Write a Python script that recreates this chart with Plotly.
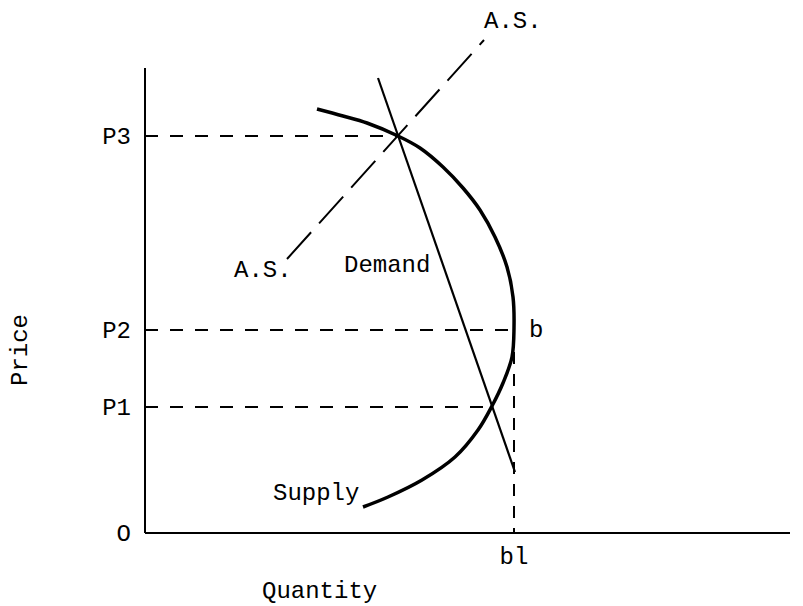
import plotly.graph_objects as go

# Supply curve (bent-back), data units (quantity, price)
supply_q = [172, 198, 222, 253, 275, 298, 318, 335, 350, 362, 368, 369, 367, 358, 347,
            333, 310, 277, 243, 218]
supply_p = [424, 417, 410, 397, 385, 366, 345, 323, 296, 266, 236, 205, 176, 150, 127,
            103, 76, 53, 36, 26]

# Demand line
demand_q = [233, 370]
demand_p = [455, 61]

# A.S. line
as_q = [142, 339]
as_p = [274, 493]

# Price levels and quantity marks
price_labels = ["O", "P1", "P2", "P3"]
price_vals = [0, 126, 203, 397]
p1_q, p2_q, p3_q = 347, 369, 253
b1_q = 369
qty_labels = ["bl"]
qty_vals = [369]
axis_q_max = 645
axis_p_max = 465

FONT = "Liberation Mono, Courier New, monospace"
fs = 24
fig = go.Figure()

def line(x, y, width=2.0, dash=None):
    fig.add_trace(go.Scatter(x=x, y=y, mode="lines",
                             line=dict(color="black", width=width, dash=dash),
                             hoverinfo="skip", showlegend=False))

# axes
line([0, 0], [0, axis_p_max])
line([0, axis_q_max], [0, 0])
# horizontal dashed guides
for q, p in [(p3_q, price_vals[3]), (p2_q, price_vals[2]), (p1_q, price_vals[1])]:
    line([0, q], [p, p], dash="13px,12px")
# vertical dashed guide b -> bl
line([b1_q, b1_q], [price_vals[2], 0], dash="12px,10px")
# A.S.
line(as_q, as_p, dash="36px,12px")
# Demand
line(demand_q, demand_p, width=2.2)
# Supply
fig.add_trace(go.Scatter(x=supply_q, y=supply_p, mode="lines",
                         line=dict(color="black", width=3.5, shape="spline", smoothing=1.0),
                         hoverinfo="skip", showlegend=False))

# page offset of the figure inside the page body
OFF = 8
L, R, T, B = 134, 21, 0, 78
W, H = 803, 606
plot_w = W - L - R
plot_h = H - T - B

def px(page_x):
    return (page_x - OFF - L) / plot_w

def py(page_y):
    return (OFF + T + plot_h - page_y) / plot_h

def ann(text, x, y, xanchor="center", angle=0):
    return dict(text=text, x=px(x), y=py(y), xref="paper", yref="paper",
                showarrow=False, xanchor=xanchor, yanchor="middle", textangle=angle,
                font=dict(family=FONT, size=fs, color="black"))

fig.update_layout(
    width=W, height=H,
    margin=dict(l=L, r=R, t=T, b=B),
    plot_bgcolor="white", paper_bgcolor="white",
    font=dict(family=FONT, size=fs, color="black"),
    xaxis=dict(range=[-3, plot_w - 3], showgrid=False, zeroline=False, showline=False,
               tickvals=qty_vals, ticktext=qty_labels, ticks="", ticklabelstandoff=3,
               tickfont=dict(family=FONT, size=fs)),
    yaxis=dict(range=[-3, plot_h - 3], showgrid=False, zeroline=False, showline=False,
               tickvals=price_vals, ticktext=price_labels, ticks="", ticklabelstandoff=10,
               tickfont=dict(family=FONT, size=fs)),
    annotations=[
        ann("A.S.", 513, 22),
        ann("A.S.", 263, 270),
        ann("Demand", 387, 265),
        ann("Supply", 316, 493),
        ann("b", 527, 330, xanchor="left"),
        ann("Quantity", 319, 591),
        ann("Price", 20, 350, angle=-90),
    ],
)

fig.write_html("out.html")
